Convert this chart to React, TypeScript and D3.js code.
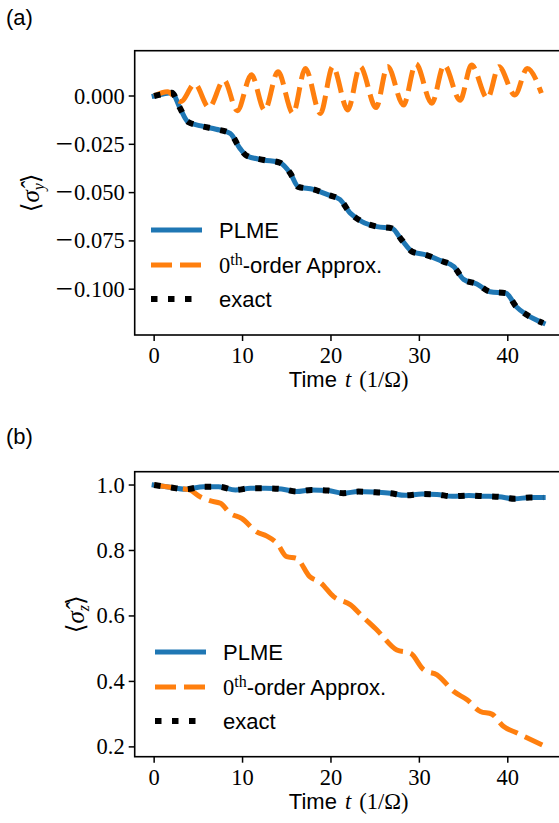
import React from "react";
import * as d3 from "d3";

// ---------- data ----------
const xTicks = [0, 10, 20, 30, 40];

// panel (a): <sigma_y>
const yTicksA = [0, -0.025, -0.05, -0.075, -0.1];
const yTickLabelsA = ["0.000", "-0.025", "-0.050", "-0.075", "-0.100"];

const tPlmeA = [0, 1.0, 2.0, 2.9, 3.8, 5.3, 7.0, 8.6, 9.7, 10.5, 12.4, 14.2, 15.4, 16.3, 18.0, 19.7, 21.0, 22.2, 23.5, 25.2, 26.9, 28.0, 29.2, 30.8, 32.4, 33.9, 35.0, 36.5, 38.0, 39.8, 40.95, 42.2, 44.0];
const vPlmeA = [0, 0.001, 0.0017, -0.006, -0.0133, -0.0155, -0.0172, -0.0193, -0.0271, -0.031, -0.0331, -0.0345, -0.040, -0.047, -0.0483, -0.0512, -0.0535, -0.0607, -0.065, -0.0676, -0.0685, -0.0745, -0.0806, -0.0823, -0.0852, -0.0883, -0.0949, -0.0973, -0.1013, -0.1021, -0.109, -0.1134, -0.1175];
const tExactA = tPlmeA;
const vExactA = vPlmeA;

const tApproxA = [0, 1.5, 3.0, 4.6, 6.2, 7.9, 9.4, 11.0, 12.5, 14.0, 15.7, 17.1, 18.8, 20.2, 21.9, 23.3, 25.1, 26.4, 28.2, 29.6, 31.4, 32.8, 34.6, 35.9, 37.7, 39.0, 40.8, 42.2, 43.8];
const vApproxA = [0, 0.0022, -0.0029, 0.0062, -0.0059, 0.0082, -0.0076, 0.011, -0.0074, 0.0126, -0.009, 0.0143, -0.009, 0.0152, -0.0072, 0.0153, -0.006, 0.0153, -0.0047, 0.0166, -0.0038, 0.016, -0.0022, 0.016, -0.0012, 0.0152, 0.0005, 0.0143, 0.0015];

// panel (b): <sigma_z>
const yTicksB = [1.0, 0.8, 0.6, 0.4, 0.2];
const yTickLabelsB = ["1.0", "0.8", "0.6", "0.4", "0.2"];

const tPlmeB = [0, 1.8, 3.5, 5.6, 7.3, 9.2, 10.9, 12.6, 14.4, 16.1, 17.8, 19.7, 21.4, 23.1, 25.0, 26.7, 28.4, 30.3, 32.0, 33.7, 35.6, 37.3, 39.0, 40.8, 42.5, 44.0];
const vPlmeB = [1.0, 0.993, 0.987, 0.995, 0.995, 0.985, 0.99, 0.99, 0.988, 0.98, 0.985, 0.983, 0.975, 0.98, 0.978, 0.975, 0.9685, 0.9725, 0.971, 0.9654, 0.968, 0.966, 0.964, 0.958, 0.962, 0.962];
const tExactB = tPlmeB;
const vExactB = vPlmeB;

const tApproxB = [0, 1.8, 4.0, 5.2, 6.3, 7.5, 8.6, 9.9, 11.6, 12.75, 13.9, 15.0, 16.1, 17.6, 18.8, 20.3, 22.2, 23.5, 25.2, 27.45, 29.0, 30.5, 32.0, 33.9, 35.4, 36.9, 38.2, 39.5, 41.0, 43.9];
const vApproxB = [1.0, 0.993, 0.985, 0.964, 0.952, 0.944, 0.9135, 0.898, 0.857, 0.844, 0.822, 0.781, 0.776, 0.72, 0.702, 0.659, 0.634, 0.6, 0.557, 0.496, 0.486, 0.435, 0.42, 0.369, 0.344, 0.308, 0.3, 0.263, 0.243, 0.206];

// ---------- style ----------
const BLUE = "#1f77b4";
const ORANGE = "#ff7f0e";
const SERIF = "'Liberation Serif', 'DejaVu Serif', serif";
const SANS = "'Liberation Sans', 'DejaVu Sans', sans-serif";
const FS = 22.5;
const FSS = 22;

const LEFT = 134.7;
const RIGHT = 562.6;

type PanelProps = {
  top: number;
  bottom: number;
  yDomain: [number, number];
  yTicks: number[];
  yTickLabels: string[];
  plme: [number[], number[]];
  approx: [number[], number[]];
  exact: [number[], number[]];
  sub: string;
  ylabelX: number;
  legendX: number;
  legendRows: number[];
  tag: string;
  tagY: number;
};

function TickLabel({ label }: { label: string }) {
  if (label.startsWith("-")) {
    return (
      <>
        <tspan fontSize={31} dy={2}>{"\u2212"}</tspan>
        <tspan dx={1} dy={-2}>{label.slice(1)}</tspan>
      </>
    );
  }
  return <tspan>{label}</tspan>;
}

function Panel(p: PanelProps) {
  const x = d3.scaleLinear().domain([-2.2, 46.2]).range([LEFT, RIGHT]);
  const y = d3.scaleLinear().domain(p.yDomain).range([p.bottom, p.top]);
  const line = d3
    .line<[number, number]>()
    .x((d) => x(d[0]))
    .y((d) => y(d[1]))
    .curve(d3.curveMonotoneX);
  const pts = (s: [number[], number[]]) => s[0].map((t, i) => [t, s[1][i]] as [number, number]);
  const lx = p.legendX;
  const tx = lx + 68;
  return (
    <g>
      <text x={6} y={p.tagY} fontFamily={SANS} fontSize={FSS} fill="#000">
        {p.tag}
      </text>
      {/* lines */}
      <path d={line(pts(p.plme)) || ""} fill="none" stroke={BLUE} strokeWidth={5} strokeLinejoin="round" strokeLinecap="square" />
      <path d={line(pts(p.approx)) || ""} fill="none" stroke={ORANGE} strokeWidth={5} strokeDasharray="21 8" strokeLinejoin="round" />
      <path d={line(pts(p.exact)) || ""} fill="none" stroke="#000" strokeWidth={6} strokeDasharray="6.5 10.5" strokeLinejoin="round" />
      {/* frame */}
      <rect x={LEFT} y={p.top} width={RIGHT - LEFT} height={p.bottom - p.top} fill="none" stroke="#000" strokeWidth={1.6} />
      {/* x ticks */}
      {xTicks.map((t) => (
        <g key={"x" + t}>
          <line x1={x(t)} x2={x(t)} y1={p.bottom} y2={p.bottom + 6} stroke="#000" strokeWidth={1.5} />
          <text x={x(t)} y={p.bottom + 28} textAnchor="middle" fontFamily={SERIF} fontSize={FS} fill="#000">
            {t}
          </text>
        </g>
      ))}
      {/* y ticks */}
      {p.yTicks.map((v, i) => (
        <g key={"y" + i}>
          <line x1={LEFT - 6} x2={LEFT} y1={y(v)} y2={y(v)} stroke="#000" strokeWidth={1.5} />
          <text x={LEFT - 10} y={y(v) + 7.5} textAnchor="end" fontFamily={SERIF} fontSize={FS} fill="#000">
            <TickLabel label={p.yTickLabels[i]} />
          </text>
        </g>
      ))}
      {/* x label */}
      <text x={(LEFT + RIGHT) / 2} y={p.bottom + 52} textAnchor="middle" fontSize={FS} fill="#000">
        <tspan fontFamily={SANS} fontSize={FSS}>Time</tspan>
        <tspan fontFamily={SERIF} fontStyle="italic" dx={8}>t</tspan>
        <tspan fontFamily={SERIF} dx={8}>(1/Ω)</tspan>
      </text>
      {/* y label */}
      <text
        transform={`translate(${p.ylabelX},${(p.top + p.bottom) / 2}) rotate(-90)`}
        textAnchor="middle"
        fontFamily={SERIF}
        fontSize={25}
        fill="#000"
        dy={8}
      >
        <tspan fontFamily="'DejaVu Serif', serif" fontWeight={200}>⟨</tspan>
        <tspan fontStyle="italic">σ̂</tspan>
        <tspan fontStyle="italic" fontSize={16} dy={5}>{p.sub}</tspan>
        <tspan dy={-5} fontFamily="'DejaVu Serif', serif">⟩</tspan>
      </text>
      {/* legend */}
      <line x1={lx} x2={lx + 51} y1={p.legendRows[0]} y2={p.legendRows[0]} stroke={BLUE} strokeWidth={5} />
      <text x={tx} y={p.legendRows[0] + 8} fontFamily={SANS} fontSize={FSS} fill="#000">PLME</text>
      <line x1={lx} x2={lx + 51} y1={p.legendRows[1]} y2={p.legendRows[1]} stroke={ORANGE} strokeWidth={5} strokeDasharray="21 8" />
      <text x={tx} y={p.legendRows[1] + 8} fontSize={FSS} fill="#000">
        <tspan fontFamily={SERIF} fontSize={FS}>0</tspan>
        <tspan fontFamily={SERIF} fontSize={16} dy={-8}>th</tspan>
        <tspan fontFamily={SANS} dy={8}>-order Approx.</tspan>
      </text>
      <line x1={lx} x2={lx + 49} y1={p.legendRows[2]} y2={p.legendRows[2]} stroke="#000" strokeWidth={6} strokeDasharray="6.5 10.5" />
      <text x={tx} y={p.legendRows[2] + 8} fontFamily={SANS} fontSize={FSS} fill="#000">exact</text>
    </g>
  );
}

export default function App() {
  return (
    <svg
      width={559}
      height={823}
      viewBox="0 0 559 823"
      style={{ position: "absolute", left: 0, top: 0, background: "#fff" }}
    >
      <rect x={0} y={0} width={559} height={823} fill="#fff" />
      <Panel
        top={50.7}
        bottom={335}
        yDomain={[-0.1237, 0.02345]}
        yTicks={yTicksA}
        yTickLabels={yTickLabelsA}
        plme={[tPlmeA, vPlmeA]}
        approx={[tApproxA, vApproxA]}
        exact={[tExactA, vExactA]}
        sub="y"
        ylabelX={31}
        legendX={151}
        legendRows={[230, 265, 299]}
        tag="(a)"
        tagY={25}
      />
      <Panel
        top={471.7}
        bottom={756.7}
        yDomain={[0.17, 1.0407]}
        yTicks={yTicksB}
        yTickLabels={yTickLabelsB}
        plme={[tPlmeB, vPlmeB]}
        approx={[tApproxB, vApproxB]}
        exact={[tExactB, vExactB]}
        sub="z"
        ylabelX={76}
        legendX={155}
        legendRows={[652, 687, 721]}
        tag="(b)"
        tagY={444}
      />
    </svg>
  );
}
